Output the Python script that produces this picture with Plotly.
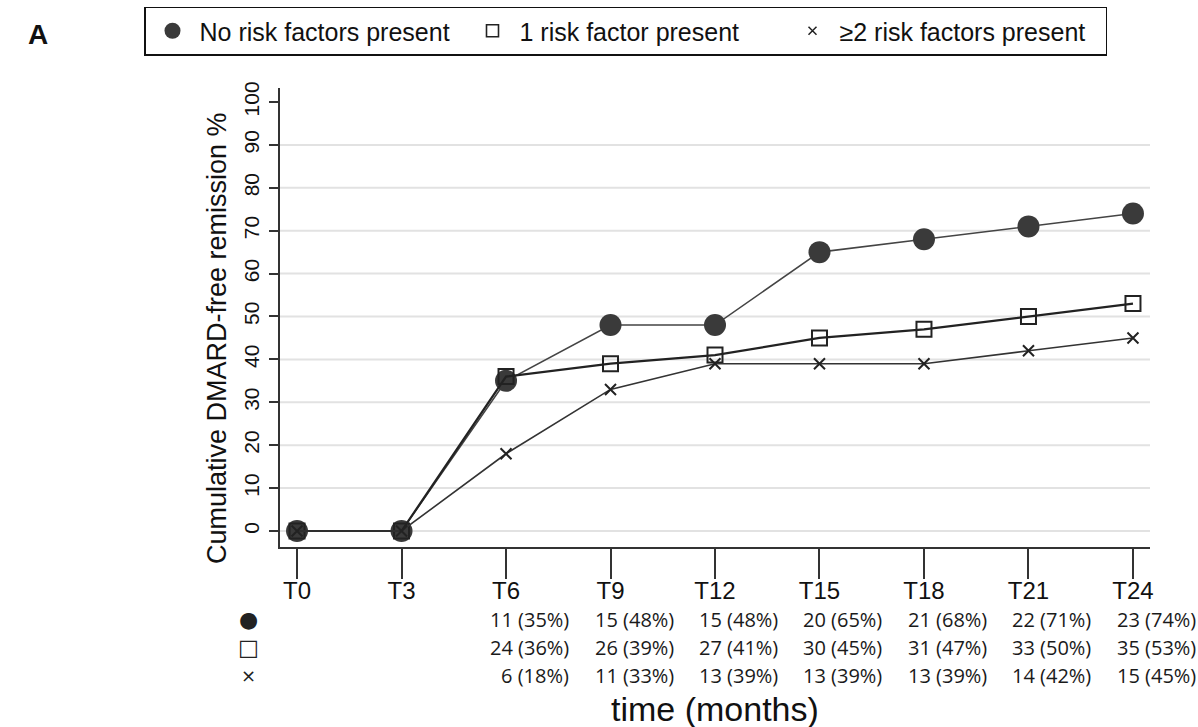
import plotly.graph_objects as go

# ---- data ----
timepoints = ["T0", "T3", "T6", "T9", "T12", "T15", "T18", "T21", "T24"]
no_risk_pct = [0, 0, 35, 48, 48, 65, 68, 71, 74]
one_risk_pct = [0, 0, 36, 39, 41, 45, 47, 50, 53]
two_plus_pct = [0, 0, 18, 33, 39, 39, 39, 42, 45]
no_risk_n = [None, None, 11, 15, 15, 20, 21, 22, 23]
one_risk_n = [None, None, 24, 26, 27, 30, 31, 33, 35]
two_plus_n = [None, None, 6, 11, 13, 13, 13, 14, 15]
series_names = ["No risk factors present", "1 risk factor present", "\u22652 risk factors present"]
y_ticks = [0, 10, 20, 30, 40, 50, 60, 70, 80, 90, 100]
grid_vals = [0, 10, 20, 30, 40, 50, 60, 70, 80, 90]
y_title = "Cumulative DMARD-free remission %"
x_title = "time (months)"

xpos = list(range(len(timepoints)))
DARK = "#3a3a3a"
FONT = "Liberation Sans, Arial, sans-serif"

styles = [
    dict(line=dict(color="#444444", width=1.6),
         marker=dict(symbol="circle", size=22, color=DARK, line=dict(width=0))),
    dict(line=dict(color="#222222", width=2.2),
         marker=dict(symbol="square-open", size=15, color="#222222", line=dict(width=2))),
    dict(line=dict(color="#333333", width=1.6),
         marker=dict(symbol="x-thin", size=11, color="#222222", line=dict(width=2, color="#222222"))),
]
legend_markers = [
    dict(symbol="circle", size=16, color=DARK, line=dict(width=0)),
    dict(symbol="square-open", size=12, color="#222222", line=dict(width=1.6)),
    dict(symbol="x-thin", size=8, color="#222222", line=dict(width=1.5, color="#222222")),
]

fig = go.Figure()
for name, vals, st in zip(series_names, [no_risk_pct, one_risk_pct, two_plus_pct], styles):
    fig.add_trace(go.Scatter(x=xpos, y=vals, name=name, mode="lines+markers",
                             showlegend=False, **st))
# legend entries (markers only, as in the reference)
for name, lm in zip(series_names, legend_markers):
    fig.add_trace(go.Scatter(x=[None], y=[None], name=name, mode="markers",
                             marker=lm, showlegend=True))

# grid lines (0..90)
for g in grid_vals:
    fig.add_shape(type="line", xref="paper", yref="y", x0=0, x1=1, y0=g, y1=g,
                  line=dict(color="#e2e2e2", width=2), layer="below")

annotations = []
rows = [(no_risk_n, no_risk_pct, "\u25CF", -0.159, 22),
        (one_risk_n, one_risk_pct, "\u25A1", -0.220, 22),
        (two_plus_n, two_plus_pct, "\u00D7", -0.279, 18)]
for counts, pcts, sym, yy, ssize in rows:
    annotations.append(dict(x=-0.036, y=yy, xref="paper", yref="paper", text=sym,
                            showarrow=False, xanchor="center", yanchor="middle",
                            font=dict(family="DejaVu Sans", size=ssize, color="#222222")))
    for i, (c, p) in enumerate(zip(counts, pcts)):
        if c is None:
            continue
        annotations.append(dict(x=xpos[i], y=yy, xref="x", yref="paper",
                                text=f"{c} ({p}%)", showarrow=False,
                                xanchor="right", yanchor="middle", xshift=65,
                                font=dict(family="Open Sans", size=20, color="#1a1a1a")))

annotations.append(dict(x=0.5, y=-0.352, xref="paper", yref="paper", text=x_title,
                        showarrow=False, xanchor="center", yanchor="middle",
                        font=dict(family=FONT, size=34, color="#111111")))
annotations.append(dict(x=-0.0724, y=(547 - 566) / 459, xref="paper", yref="paper",
                        text=y_title, textangle=-90, showarrow=False,
                        xanchor="center", yanchor="bottom",
                        font=dict(family=FONT, size=27, color="#111111")))
annotations.append(dict(x=(38 - 280) / 870, y=(547 - 35) / 459, xref="paper", yref="paper",
                        text="<b>A</b>", showarrow=False, xanchor="center", yanchor="middle",
                        font=dict(family=FONT, size=28, color="#111111")))

fig.update_layout(
    width=1198, height=727,
    margin=dict(l=280, r=48, t=88, b=180, autoexpand=False),
    paper_bgcolor="white", plot_bgcolor="white",
    font=dict(family=FONT, color="#111111"),
    showlegend=True,
    legend=dict(orientation="h", xref="paper", yref="paper",
                x=(144 - 280) / 870, y=(547 - 31) / 459, xanchor="left", yanchor="middle",
                bordercolor="#111111", borderwidth=1.5, bgcolor="white",
                itemwidth=44, entrywidth=261, entrywidthmode="pixels",
                font=dict(family=FONT, size=25, color="#111111")),
    annotations=annotations,
    xaxis=dict(range=[-0.163, 8.163], tickmode="array", tickvals=xpos, ticktext=timepoints,
               showgrid=False, zeroline=False, showline=True, linecolor="#333333", linewidth=2,
               ticks="outside", ticklen=30, tickwidth=2, tickcolor="#333333",
               ticklabelstandoff=-9,
               tickfont=dict(family=FONT, size=24, color="#111111")),
    yaxis=dict(range=[-3.73, 103.26], tickmode="array", tickvals=y_ticks,
               showgrid=False, zeroline=False, showline=True, linecolor="#333333", linewidth=2,
               ticks="outside", ticklen=9, tickwidth=2, tickcolor="#333333", tickangle=-90,
               ticklabelstandoff=2,
               tickfont=dict(family=FONT, size=21, color="#111111")),
)

fig.write_html("out.html", config={"displayModeBar": False},
               post_script="document.body.style.margin='0';")
